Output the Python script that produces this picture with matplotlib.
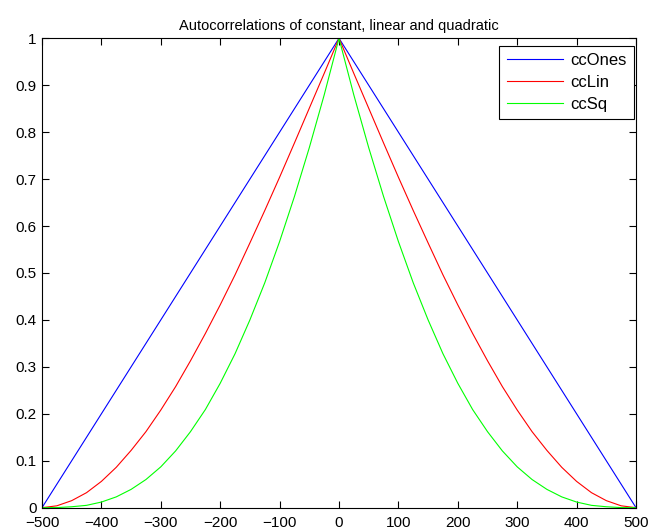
import numpy as np
import matplotlib.pyplot as plt

plt.rcParams['font.family'] = ['Liberation Sans', 'DejaVu Sans']

# lags (positive half; curves are symmetric)
lags_half = [0, 25, 50, 75, 100, 125, 150, 175, 200, 225, 250,
             275, 300, 325, 350, 375, 400, 425, 450, 475, 500]

cc_ones_half = [1.0, 0.95, 0.90, 0.85, 0.80, 0.75, 0.70, 0.65, 0.60, 0.55, 0.50,
                0.45, 0.40, 0.35, 0.30, 0.25, 0.20, 0.15, 0.10, 0.05, 0.0]
cc_lin_half = [1.0, 0.925, 0.851, 0.777, 0.704, 0.633, 0.564, 0.496, 0.432, 0.371, 0.313,
               0.258, 0.208, 0.162, 0.122, 0.086, 0.056, 0.032, 0.015, 0.004, 0.0]
cc_sq_half = [1.0, 0.879, 0.767, 0.663, 0.567, 0.479, 0.400, 0.328, 0.265, 0.209, 0.162,
              0.121, 0.087, 0.060, 0.039, 0.023, 0.012, 0.005, 0.002, 0.0002, 0.0]

def mirror(vals):
    return vals[:0:-1] + vals

lags = [-v for v in lags_half[:0:-1]] + lags_half
cc_ones = mirror(cc_ones_half)
cc_lin = mirror(cc_lin_half)
cc_sq = mirror(cc_sq_half)

fig = plt.figure(figsize=(6.54, 5.31), dpi=100)
ax = fig.add_axes([0.0642, 0.0439, 0.9083, 0.884])

ax.plot(lags, cc_ones, color='#0000ff', lw=0.8, label='ccOnes')
ax.plot(lags, cc_lin, color='#ff0000', lw=0.8, label='ccLin')
ax.plot(lags, cc_sq, color='#00ff00', lw=0.8, label='ccSq')

ax.set_xlim(-500, 500)
ax.set_ylim(0, 1)
ax.set_xticks(np.arange(-500, 501, 100))
ax.set_yticks(np.arange(0, 1.01, 0.1))
ax.set_yticklabels(['0', '0.1', '0.2', '0.3', '0.4', '0.5', '0.6', '0.7', '0.8', '0.9', '1'])
ax.tick_params(direction='in', top=True, right=True, length=5, labelsize=11)
ax.tick_params(axis='x', pad=6)
ax.tick_params(axis='y', pad=4)
for s in ax.spines.values():
    s.set_linewidth(0.8)

ax.set_title('Autocorrelations of constant, linear and quadratic', fontsize=10.5, pad=6)

leg = ax.legend(loc='upper right', bbox_to_anchor=(0.9965, 0.984), fontsize=12,
                fancybox=False, framealpha=1, edgecolor='black', handlelength=3.4,
                borderaxespad=0, labelspacing=0.4, handletextpad=0.4, borderpad=0.45)
leg.get_frame().set_linewidth(0.8)

fig.savefig('out.png', dpi=100)
